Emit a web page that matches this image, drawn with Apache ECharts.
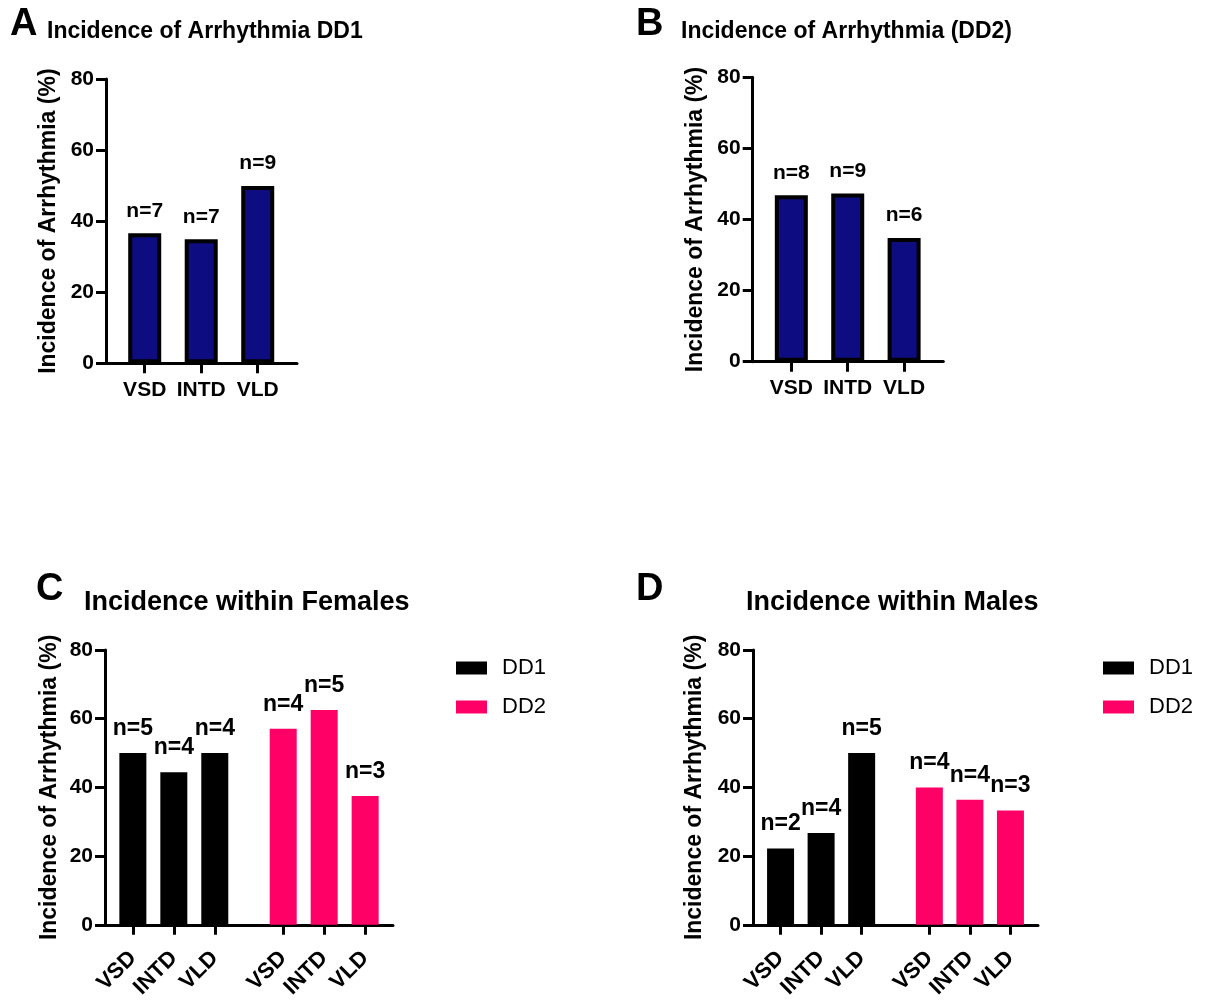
<!DOCTYPE html>
<html>
<head>
<meta charset="utf-8">
<script src="https://cdn.jsdelivr.net/npm/echarts@6/dist/echarts.min.js"></script>
<style>
html,body{margin:0;padding:0;background:#fff;}
#chart{width:1205px;height:1001px;}
</style>
</head>
<body>
<div id="chart"></div>
<script>
// ---------- data ----------
const categories = ['VSD', 'INTD', 'VLD'];
const yTicks = [0, 20, 40, 60, 80];

const valuesA = [36.6, 34.9, 49.9];
const countsA = [7, 7, 9];

const valuesB = [46.8, 47.3, 34.8];
const countsB = [8, 9, 6];

const valuesC_DD1 = [50.0, 44.4, 50.0];
const countsC_DD1 = [5, 4, 4];
const valuesC_DD2 = [57.1, 62.5, 37.5];
const countsC_DD2 = [4, 5, 3];

const valuesD_DD1 = [22.2, 26.7, 50.0];
const countsD_DD1 = [2, 4, 5];
const valuesD_DD2 = [40.0, 36.4, 33.3];
const countsD_DD2 = [4, 4, 3];

const seriesNames = ['DD1', 'DD2'];
const yAxisTitle = 'Incidence of Arrhythmia (%)';

// ---------- layout / style ----------
const FONT = '"Liberation Sans", Arial, Helvetica, sans-serif';
const NAVY = '#0d0c80';
const PINK = '#ff0066';
const BLACK = '#000000';

// position of bar i along a value x-axis (layout only)
const singleOffset = 0.685, singleMax = 3.38;
const groupOffset = 0.68, groupGap = 4.35, groupMax = 7.03;
const posSingle = categories.map((c, i) => singleOffset + i);
const posGroup1 = categories.map((c, i) => groupOffset + i);
const posGroup2 = categories.map((c, i) => groupGap + i);

const grids = [
  {left: 106, top: 79, width: 191, height: 284.3},
  {left: 752.7, top: 77.3, width: 190.6, height: 284.4},
  {left: 105, top: 650, width: 288, height: 283},
  {left: 753, top: 650, width: 285, height: 283.3}
];

function labelFor(positions, labels) {
  return function (v) {
    for (let i = 0; i < positions.length; i++) {
      if (Math.abs(positions[i] - v) < 1e-6) return labels[i];
    }
    return '';
  };
}

function makeX(gi, max, positions, labels, rotated) {
  return {
    type: 'value', gridIndex: gi, min: 0, max: max,
    splitLine: {show: false},
    axisLine: {show: true, onZero: false, lineStyle: {color: BLACK, width: 3}},
    axisTick: {show: true, customValues: positions, length: 10, lineStyle: {color: BLACK, width: 3}},
    axisLabel: {
      show: true, customValues: positions, formatter: labelFor(positions, labels),
      color: BLACK, fontFamily: FONT, fontWeight: 'bold', fontSize: rotated ? 22 : 21,
      margin: rotated ? 30 : 16, rotate: rotated ? 45 : 0,
      hideOverlap: false, showMinLabel: true, showMaxLabel: true
    }
  };
}

function makeY(gi, nameGap) {
  return {
    type: 'value', gridIndex: gi, min: yTicks[0], max: yTicks[yTicks.length - 1], interval: 20,
    splitLine: {show: false},
    axisLine: {show: true, lineStyle: {color: BLACK, width: 3}},
    axisTick: {show: true, length: 10, lineStyle: {color: BLACK, width: 3}},
    axisLabel: {color: BLACK, fontFamily: FONT, fontWeight: 'bold', fontSize: 21, margin: 12},
    name: yAxisTitle, nameLocation: 'middle', nameGap: nameGap,
    nameTextStyle: {color: BLACK, fontFamily: FONT, fontWeight: 'bold', fontSize: 23}
  };
}

function makeBar(name, gi, positions, values, counts, color, bordered, width) {
  return {
    type: 'bar', name: name, xAxisIndex: gi, yAxisIndex: gi,
    barWidth: width, barGap: '-100%',
    data: positions.map((p, i) => [p, values[i]]),
    itemStyle: bordered ? {color: color, borderColor: BLACK, borderWidth: 4} : {color: color},
    label: {
      show: true, position: 'top', distance: bordered ? 12 : 13,
      formatter: (p) => 'n=' + counts[p.dataIndex],
      color: BLACK, fontFamily: FONT, fontWeight: 'bold', fontSize: bordered ? 21 : 23
    },
    emphasis: {disabled: true}
  };
}

const allCatsGroup = categories.concat(categories);
const posGroupAll = posGroup1.concat(posGroup2);

function titleItem(text, left, top, size) {
  return {text: text, left: left, top: top, padding: 0,
    textStyle: {color: BLACK, fontFamily: FONT, fontWeight: 'bold', fontSize: size, lineHeight: size}};
}

function legendItem(left, top) {
  return {
    show: true, orient: 'vertical', left: left, top: top, padding: 0,
    data: seriesNames, icon: 'rect', itemWidth: 31, itemHeight: 13, itemGap: 17,
    selectedMode: false,
    textStyle: {color: BLACK, fontFamily: FONT, fontSize: 22, padding: [0, 0, 0, 10]}
  };
}

const option = {
  backgroundColor: '#ffffff',
  animation: false,
  title: [
    titleItem('A', 10, 5.7, 38),
    titleItem('Incidence of Arrhythmia DD1', 47, 20.5, 23),
    titleItem('B', 636, 5.7, 38),
    titleItem('Incidence of Arrhythmia (DD2)', 681, 20.5, 23),
    titleItem('C', 36, 570.7, 38),
    titleItem('Incidence within Females', 84, 589, 27),
    titleItem('D', 636, 570.7, 38),
    titleItem('Incidence within Males', 746, 589, 27)
  ],
  legend: [legendItem(456, 657), legendItem(1103, 657)],
  grid: grids,
  xAxis: [
    makeX(0, singleMax, posSingle, categories, false),
    makeX(1, singleMax, posSingle, categories, false),
    makeX(2, groupMax, posGroupAll, allCatsGroup, true),
    makeX(3, groupMax, posGroupAll, allCatsGroup, true)
  ],
  yAxis: [makeY(0, 46), makeY(1, 46), makeY(2, 44), makeY(3, 47)],
  series: [
    makeBar('A', 0, posSingle, valuesA, countsA, NAVY, true, 33),
    makeBar('B', 1, posSingle, valuesB, countsB, NAVY, true, 33),
    makeBar(seriesNames[0], 2, posGroup1, valuesC_DD1, countsC_DD1, BLACK, false, 27),
    makeBar(seriesNames[1], 2, posGroup2, valuesC_DD2, countsC_DD2, PINK, false, 27),
    makeBar(seriesNames[0], 3, posGroup1, valuesD_DD1, countsD_DD1, BLACK, false, 27),
    makeBar(seriesNames[1], 3, posGroup2, valuesD_DD2, countsD_DD2, PINK, false, 27)
  ]
};

const chart = echarts.init(document.getElementById('chart'), null, {renderer: 'canvas'});
chart.setOption(option);
</script>
</body>
</html>
